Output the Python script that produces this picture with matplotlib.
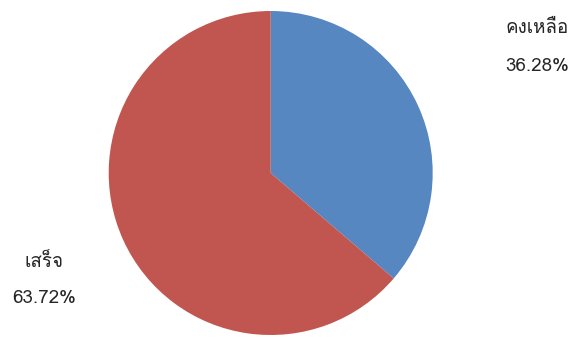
import matplotlib
matplotlib.use("Agg")
import matplotlib.pyplot as plt
from matplotlib import font_manager
from matplotlib.ft2font import FT2Font

# Data
categories = ["คงเหลือ", "เสร็จ"]
values = [36.28, 63.72]
colors = ["#5687C1", "#C15651"]


def thai_family():
    """Find an installed family that has Thai glyphs."""
    seen = set()
    for f in font_manager.fontManager.ttflist:
        if f.name in seen:
            continue
        seen.add(f.name)
        try:
            ft = FT2Font(f.fname)
            if ft.get_char_index(ord("ค")):
                return f.name
        except Exception:
            pass
    return None


fam = thai_family()
families = ([fam] if fam else []) + ["DejaVu Sans"]
plt.rcParams["font.family"] = families

W, H = 574, 338
fig = plt.figure(figsize=(W / 100, H / 100), dpi=100)
fig.patch.set_facecolor("white")

cx, cy, r = 270.7, 173, 162
ax = fig.add_axes([(cx - r) / W, (H - cy - r) / H, 2 * r / W, 2 * r / H])
ax.pie(values, colors=colors, startangle=90, counterclock=False,
       radius=1, wedgeprops=dict(linewidth=0))
ax.set_xlim(-1, 1)
ax.set_ylim(-1, 1)
ax.set_aspect("auto")
ax.axis("off")

# Category labels with percentages
label_pos = [(537, 28, 66), (44, 262, 298)]
for (x, y1, y2), name, v in zip(label_pos, categories, values):
    fig.text(x / W, 1 - y1 / H, name, ha="center", va="center",
             fontsize=13.5, color="#262626")
    fig.text(x / W, 1 - y2 / H, f"{v:.2f}%", ha="center", va="center",
             fontsize=13.5, color="#262626")

fig.savefig("out.png", dpi=100, facecolor="white")
